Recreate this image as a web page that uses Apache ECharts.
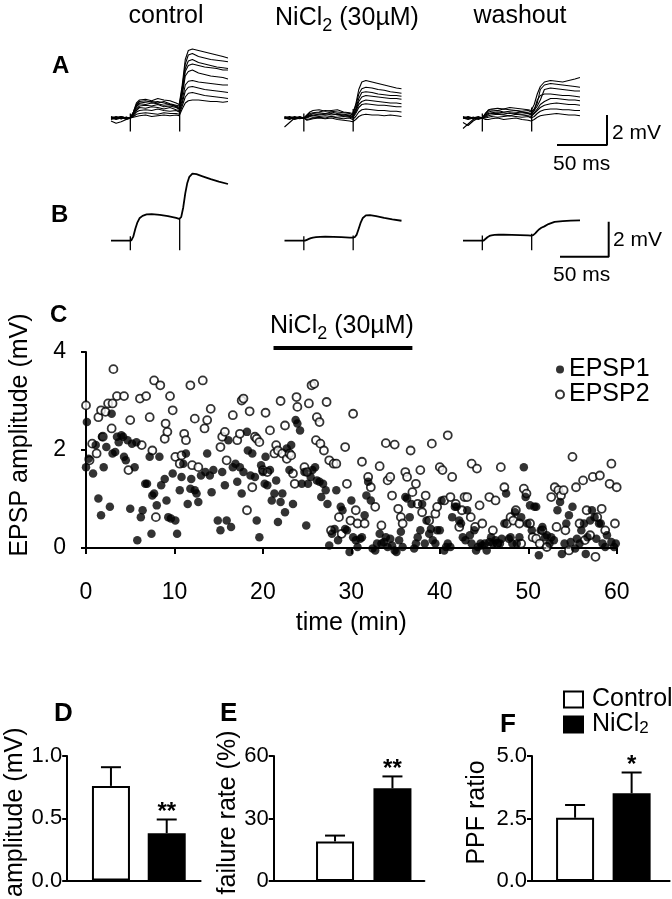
<!DOCTYPE html>
<html>
<head>
<meta charset="utf-8">
<script src="https://cdn.jsdelivr.net/npm/echarts@6/dist/echarts.min.js"></script>
<style>
  html, body { margin: 0; padding: 0; background: #fff; }
  #chart { width: 672px; height: 899px; }
</style>
</head>
<body>
<div id="chart"></div>
<script>
// ---- data ----
// single sweeps (A): mV at traceTimes (ms)
const traceTimes = [0, 5, 10, 15, 19, 22, 25, 28, 34, 40, 46, 52, 58, 64, 67, 70, 73, 76, 80, 86, 92, 98, 104, 110, 115]
const stimTimes = [19, 67.5]

const controlSweeps = [
  [0.05, -0.05, 0.1, 0, 0, 0.4, 1.0, 1.2, 1.25, 1.15, 1.3, 1.2, 1.15, 1.0, 0.9, 2.2, 3.9, 4.5, 4.6, 4.5, 4.4, 4.3, 4.2, 4.1, 4.0],
  [0, 0.1, -0.05, 0.05, 0, 0.3, 0.8, 1.0, 1.05, 1.1, 1.0, 1.1, 0.95, 0.85, 0.8, 2.0, 3.6, 4.2, 4.3, 4.1, 4.0, 3.9, 3.85, 3.8, 3.75],
  [-0.05, 0, 0.05, -0.1, 0, 0.3, 0.75, 0.95, 0.9, 1.0, 0.95, 0.85, 0.9, 0.8, 0.7, 1.8, 3.3, 3.8, 3.9, 3.7, 3.6, 3.5, 3.4, 3.35, 3.3],
  [0.1, 0, -0.05, 0.05, 0, 0.4, 0.9, 1.1, 1.15, 1.05, 1.1, 1.0, 0.9, 0.75, 0.6, 1.7, 3.1, 3.5, 3.6, 3.5, 3.4, 3.35, 3.3, 3.2, 3.2],
  [0, -0.1, 0, 0.05, 0, 0.3, 0.6, 0.8, 0.85, 0.8, 0.9, 0.75, 0.8, 0.7, 0.6, 1.5, 2.8, 3.1, 3.2, 3.0, 2.9, 2.8, 2.75, 2.7, 2.6],
  [0, 0.05, 0.1, 0, 0, 0.2, 0.5, 0.7, 0.65, 0.75, 0.7, 0.6, 0.7, 0.55, 0.5, 1.2, 2.2, 2.45, 2.5, 2.4, 2.35, 2.3, 2.25, 2.2, 2.2],
  [0.05, 0, -0.05, 0, 0, 0.2, 0.4, 0.5, 0.55, 0.5, 0.6, 0.5, 0.45, 0.5, 0.4, 1.0, 1.8, 2.05, 2.1, 2.0, 1.9, 1.85, 1.8, 1.75, 1.7],
  [-0.1, 0, 0.05, -0.05, 0, 0.1, 0.25, 0.3, 0.35, 0.3, 0.25, 0.35, 0.3, 0.3, 0.25, 0.8, 1.4, 1.65, 1.7, 1.6, 1.5, 1.45, 1.4, 1.35, 1.3],
  [-0.2, -0.35, -0.25, -0.1, 0, 0.05, 0.1, 0.15, 0.2, 0.1, 0.15, 0.2, 0.15, 0.2, 0.15, 0.6, 1.0, 1.15, 1.2, 1.2, 1.15, 1.1, 1.1, 1.05, 1.1]
]
const nickelSweeps = [
  [-0.6, -0.3, 0, 0.05, 0, 0.2, 0.4, 0.5, 0.55, 0.45, 0.5, 0.55, 0.4, 0.35, 0.3, 0.9, 1.9, 2.4, 2.5, 2.4, 2.3, 2.2, 2.1, 2.0, 1.95],
  [0.05, 0, 0.1, 0, 0, 0.15, 0.3, 0.35, 0.4, 0.5, 0.45, 0.4, 0.35, 0.3, 0.2, 0.8, 1.6, 1.95, 2.05, 2.0, 1.9, 1.85, 1.75, 1.7, 1.65],
  [0, 0.1, 0, -0.05, 0, 0.1, 0.2, 0.3, 0.35, 0.3, 0.4, 0.3, 0.25, 0.2, 0.1, 0.6, 1.3, 1.7, 1.75, 1.7, 1.6, 1.55, 1.5, 1.5, 1.45],
  [0.1, 0, -0.05, 0.05, 0, 0.05, 0.15, 0.2, 0.25, 0.3, 0.2, 0.25, 0.2, 0.15, 0.1, 0.5, 1.1, 1.4, 1.5, 1.45, 1.4, 1.35, 1.3, 1.3, 1.25],
  [0, -0.1, 0.05, 0, 0, 0.1, 0.2, 0.15, 0.2, 0.25, 0.3, 0.2, 0.15, 0.1, 0.05, 0.4, 0.9, 1.1, 1.2, 1.15, 1.1, 1.05, 1.0, 1.0, 0.95],
  [-0.05, 0, 0, 0.1, 0, 0, 0.1, 0.05, 0.1, 0.15, 0.1, 0.05, 0.1, 0.05, 0, 0.3, 0.7, 0.9, 0.95, 0.9, 0.85, 0.85, 0.8, 0.75, 0.75],
  [0.05, 0.05, -0.1, 0, 0, -0.1, -0.05, 0, 0.05, 0, 0.1, 0, -0.05, 0, -0.1, 0.1, 0.4, 0.55, 0.6, 0.55, 0.5, 0.5, 0.45, 0.45, 0.4],
  [0, -0.05, 0, 0.05, 0, -0.15, -0.1, -0.05, 0, -0.05, 0, -0.1, -0.15, -0.2, -0.25, -0.1, 0.1, 0.2, 0.25, 0.2, 0.2, 0.15, 0.2, 0.15, 0.1]
]
const washoutSweeps = [
  [-0.7, -0.4, -0.1, 0, 0, 0.3, 0.55, 0.6, 0.65, 0.6, 0.7, 0.65, 0.6, 0.55, 0.5, 0.9, 1.6, 2.1, 2.4, 2.5, 2.45, 2.4, 2.5, 2.6, 2.7],
  [0, 0.1, 0, -0.05, 0, 0.3, 0.5, 0.55, 0.5, 0.6, 0.55, 0.5, 0.45, 0.5, 0.4, 0.6, 1.0, 1.9, 2.2, 2.3, 2.25, 2.2, 2.15, 2.1, 2.05],
  [0.05, 0, 0.05, 0, 0, 0.2, 0.4, 0.45, 0.5, 0.4, 0.45, 0.5, 0.4, 0.35, 0.3, 0.5, 0.8, 1.2, 1.9, 2.0, 1.95, 1.9, 1.85, 1.8, 1.8],
  [0, -0.1, 0, 0.1, 0, 0.2, 0.3, 0.35, 0.4, 0.35, 0.3, 0.35, 0.4, 0.3, 0.25, 0.5, 1.2, 1.5, 1.6, 1.6, 1.55, 1.5, 1.5, 1.45, 1.4],
  [0.1, 0, -0.05, 0, 0, 0.1, 0.25, 0.3, 0.3, 0.25, 0.35, 0.3, 0.25, 0.3, 0.2, 0.35, 0.6, 0.9, 1.1, 1.3, 1.3, 1.25, 1.2, 1.2, 1.15],
  [0, 0.05, 0, -0.1, 0, 0.05, 0.15, 0.2, 0.25, 0.2, 0.15, 0.25, 0.2, 0.15, 0.1, 0.3, 0.5, 0.7, 0.85, 0.95, 1.0, 0.95, 0.9, 0.9, 0.85],
  [-0.3, -0.5, -0.2, 0, 0, 0, 0.05, 0.1, 0.05, 0.1, 0.15, 0.1, 0.05, 0.1, 0, 0.1, 0.3, 0.45, 0.55, 0.6, 0.6, 0.55, 0.55, 0.5, 0.5],
  [0, -0.05, 0.05, 0, 0, -0.1, -0.1, -0.05, 0, -0.1, -0.05, 0, -0.1, -0.15, -0.2, -0.1, 0.05, 0.15, 0.2, 0.25, 0.3, 0.25, 0.2, 0.2, 0.15]
]
// averaged traces (B)
const avgTimes = [0, 10, 18, 20, 22, 24, 26, 28, 31, 35, 40, 48, 56, 64, 67, 69, 71, 73, 75, 77, 80, 84, 90, 98, 106, 115]
const avgControl = [0, 0, 0, 0.02, 0.25, 0.7, 1.05, 1.28, 1.42, 1.5, 1.52, 1.47, 1.4, 1.3, 1.25, 1.35, 1.9, 2.7, 3.3, 3.65, 3.83, 3.8, 3.68, 3.52, 3.38, 3.24]
const avgNickel = [0, 0, 0, 0, 0.05, 0.1, 0.15, 0.18, 0.2, 0.22, 0.23, 0.22, 0.2, 0.18, 0.17, 0.2, 0.35, 0.7, 1.05, 1.3, 1.45, 1.46, 1.4, 1.3, 1.22, 1.14]
const avgWashout = [0, 0, 0, 0, 0.1, 0.2, 0.27, 0.31, 0.33, 0.34, 0.34, 0.33, 0.32, 0.3, 0.29, 0.32, 0.42, 0.55, 0.66, 0.74, 0.82, 0.95, 1.08, 1.12, 1.15, 1.16]
// stimulus artefacts [low, high] mV for stim 1 and 2
const artefactsA = [[[-0.9, 0.3], [-0.9, 1.0]], [[-0.9, 0.3], [-0.9, 0.6]], [[-0.9, 0.3], [-0.9, 0.7]]]
const artefactsB = [[[-0.55, 0.25], [-0.55, 1.3]], [[-0.55, 0.25], [-0.55, 0.3]], [[-0.55, 0.3], [-0.55, 0.4]]]
const scaleBar = { ms: 50, mV: 2 }

// C: time course [min, mV]
const epsp1 = [[0.0,1.65],[0.1,2.57],[0.3,1.82],[0.8,1.52],[1.1,2.10],[1.4,1.01],[1.7,0.67],[1.8,2.27],[2.0,1.65],[2.3,2.06],[2.7,0.84],[2.9,2.74],[3.0,1.93],[3.3,1.96],[3.5,2.27],[3.7,2.16],[4.0,2.30],[4.2,2.27],[4.3,1.86],[4.5,1.79],[4.7,2.20],[5.0,0.80],[5.2,2.13],[5.5,1.65],[5.7,2.16],[5.8,0.16],[6.2,0.63],[6.4,0.77],[6.7,1.31],[6.9,1.31],[7.2,1.86],[7.4,0.29],[7.5,1.07],[7.7,1.11],[8.0,0.87],[8.3,1.86],[8.5,1.28],[8.9,1.41],[9.1,0.97],[9.3,0.63],[9.6,0.60],[9.8,1.52],[10.1,0.56],[10.3,0.29],[10.6,1.18],[10.8,1.45],[11.0,1.72],[11.3,1.93],[11.5,0.90],[11.8,1.21],[11.9,1.41],[12.3,1.18],[12.5,1.11],[12.7,0.94],[13.0,1.48],[13.5,1.55],[13.7,1.93],[14.0,1.48],[14.2,1.14],[14.4,1.59],[14.9,0.56],[15.2,0.36],[15.4,1.55],[15.7,1.28],[15.9,0.56],[16.1,2.20],[16.4,0.43],[16.6,1.65],[16.9,1.72],[17.1,1.35],[17.4,1.65],[17.6,1.11],[17.8,1.55],[18.2,2.37],[18.3,1.99],[18.6,1.48],[18.8,1.93],[19.1,1.45],[19.3,0.56],[19.6,0.22],[19.8,1.69],[20.0,1.55],[20.2,1.31],[20.3,1.86],[20.5,1.28],[20.8,1.59],[21.0,0.97],[21.3,1.11],[21.5,1.38],[21.7,0.53],[22.0,0.94],[22.2,1.11],[22.5,0.73],[22.7,2.03],[23.0,1.59],[23.2,2.10],[23.4,0.90],[23.7,2.61],[23.9,2.54],[24.2,2.40],[24.4,1.31],[24.7,1.55],[24.9,0.46],[25.1,1.31],[25.4,1.45],[25.6,1.59],[25.9,1.65],[26.1,1.38],[26.4,1.35],[26.6,1.04],[26.8,1.31],[27.1,1.18],[27.3,0.90],[27.5,0.05],[27.8,0.29],[28.1,0.39],[28.3,1.18],[28.5,0.16],[28.8,0.84],[29.0,0.77],[29.3,0.39],[29.5,0.36],[29.8,-0.08],[30.0,0.97],[30.2,0.22],[30.5,0.16],[30.7,0.02],[31.0,0.19],[31.2,0.22],[31.5,0.67],[31.7,1.07],[31.9,1.35],[32.2,0.97],[32.4,-0.01],[32.7,-0.05],[32.9,0.09],[33.2,0.29],[33.4,0.09],[33.7,0.12],[33.9,0.22],[34.1,0.02],[34.4,0.19],[34.6,0.05],[34.9,-0.05],[35.1,-0.08],[35.4,0.16],[35.6,0.33],[35.8,0.02],[36.1,1.04],[36.3,1.01],[36.6,0.63],[36.8,0.90],[37.1,-0.01],[37.3,0.09],[37.5,0.22],[37.8,0.36],[38.0,0.90],[38.3,0.09],[38.5,0.56],[38.8,0.29],[39.0,0.39],[39.2,0.16],[39.5,0.09],[39.7,0.36],[40.0,0.36],[40.2,0.97],[40.5,-0.05],[40.7,0.02],[40.9,0.09],[41.2,0.02],[41.4,0.63],[41.7,0.84],[41.9,0.84],[42.2,0.56],[42.4,0.50],[42.6,0.22],[42.9,0.16],[43.1,0.77],[43.4,0.26],[43.6,0.09],[43.9,0.36],[44.1,-0.05],[44.3,0.02],[44.6,0.09],[44.8,0.05],[45.1,0.09],[45.3,-0.05],[45.6,0.12],[45.8,0.22],[46.0,0.09],[46.3,0.16],[46.5,0.09],[46.8,0.09],[47.0,0.19],[47.3,0.50],[47.5,1.11],[47.8,0.19],[48.0,0.22],[48.2,0.09],[48.5,0.73],[48.7,0.09],[49.0,0.22],[49.2,0.63],[49.5,1.65],[49.7,1.04],[49.9,0.50],[50.2,0.87],[50.4,0.36],[50.7,0.84],[50.9,0.84],[51.2,-0.15],[51.4,0.36],[51.6,0.43],[51.9,0.22],[52.1,0.26],[52.4,0.09],[52.6,0.22],[52.9,0.16],[53.3,0.77],[53.6,0.94],[53.8,-0.12],[54.1,0.09],[54.3,0.50],[54.6,0.67],[54.8,0.12],[55.0,0.84],[55.3,-0.01],[55.5,0.19],[55.8,0.09],[56.0,0.36],[56.3,0.50],[56.5,-0.12],[56.7,0.22],[57.0,0.56],[57.2,0.77],[57.5,0.63],[57.7,0.19],[58.0,0.50],[58.2,0.50],[58.4,0.09],[58.7,0.02],[58.9,0.26],[59.4,0.12],[59.7,0.02],[59.9,0.09]]
const epsp2 = [[0.0,2.91],[0.4,1.79],[0.7,2.13],[1.2,1.93],[1.4,2.67],[1.7,2.81],[1.9,2.27],[2.2,2.78],[2.5,2.95],[2.9,2.44],[3.0,2.95],[3.1,3.65],[3.5,3.10],[4.3,3.10],[4.8,1.59],[5.0,2.61],[6.1,3.05],[6.3,2.10],[6.8,3.10],[7.2,2.67],[7.5,1.99],[7.7,3.42],[7.9,0.63],[8.4,3.32],[8.9,2.23],[9.0,2.54],[9.2,2.37],[9.5,3.10],[9.8,2.81],[10.1,1.86],[10.6,1.72],[10.8,1.89],[11.1,2.33],[11.3,2.20],[11.8,3.32],[12.0,1.69],[12.3,2.64],[12.7,1.65],[13.2,3.42],[13.4,2.44],[13.7,2.61],[14.1,2.84],[15.2,2.06],[15.4,2.27],[15.7,2.37],[15.9,1.79],[16.6,2.71],[17.1,2.20],[17.4,2.33],[17.6,3.01],[17.8,3.05],[18.2,0.77],[18.5,2.79],[18.8,1.24],[19.1,2.27],[19.3,2.23],[19.6,2.16],[20.0,1.59],[20.3,2.76],[20.5,1.55],[20.8,2.40],[21.3,1.93],[21.5,2.10],[21.7,1.99],[22.0,3.00],[22.2,1.93],[22.5,2.50],[22.7,1.82],[23.0,1.93],[23.2,1.89],[23.4,1.52],[23.6,1.31],[23.8,3.08],[23.9,2.88],[24.7,1.65],[25.0,1.55],[25.2,2.95],[25.5,3.32],[25.8,3.35],[26.1,2.67],[26.4,2.57],[26.0,2.20],[26.5,2.13],[26.9,1.99],[27.2,2.98],[27.5,1.79],[27.7,0.36],[28.0,1.72],[28.3,1.72],[28.6,0.63],[28.9,0.29],[29.3,2.06],[29.5,1.31],[29.9,0.56],[30.2,2.74],[30.5,0.77],[30.7,0.50],[31.2,1.76],[31.5,0.50],[31.9,1.45],[32.2,1.24],[32.7,0.84],[33.2,1.67],[33.4,0.46],[33.9,2.14],[34.1,1.38],[34.4,1.45],[34.6,1.07],[34.9,2.11],[35.3,0.80],[35.6,0.63],[35.8,0.50],[36.1,1.55],[36.3,1.45],[36.7,1.99],[36.9,1.14],[37.3,1.31],[37.5,0.90],[37.8,1.59],[38.0,0.73],[38.4,1.07],[38.8,0.56],[39.1,2.13],[39.5,0.70],[39.7,0.84],[40.0,1.65],[40.3,1.59],[40.5,0.97],[40.9,2.30],[41.2,1.04],[41.4,1.45],[41.8,0.90],[42.2,0.43],[42.5,0.77],[42.8,1.04],[43.1,1.04],[43.5,0.63],[43.6,1.72],[44.0,0.43],[44.2,1.62],[44.5,0.87],[44.8,0.50],[45.6,1.04],[46.0,0.36],[46.3,0.97],[46.5,0.09],[46.9,1.65],[47.3,1.24],[47.6,0.50],[48.0,0.63],[48.3,0.56],[48.6,0.77],[49.0,0.50],[49.2,0.09],[49.5,1.21],[49.8,1.11],[50.2,0.50],[50.5,0.22],[50.9,0.19],[51.3,0.09],[51.6,0.36],[52.1,0.02],[52.6,1.04],[53.0,1.24],[53.2,0.43],[53.4,1.18],[53.7,1.07],[54.0,1.18],[54.2,0.36],[54.6,-0.05],[55.0,1.86],[55.4,1.24],[55.8,0.50],[56.2,1.38],[56.4,0.16],[56.6,0.77],[57.0,0.26],[57.3,1.45],[57.6,-0.18],[57.8,0.63],[58.1,1.48],[58.3,0.80],[58.7,0.36],[59.2,1.31],[59.4,1.72],[59.8,0.50],[60.0,1.24]]
const drugPeriod = [21.2, 36.9]   // min, NiCl2 application
const drugBarLevel = 4.08          // mV, where the bar sits

// D-F: summary
const groups = ['Control', 'NiCl2']
const ampMean = [0.76, 0.38]
const ampSem = [0.15, 0.11]
const ampSig = ['', '**']
const failMean = [19.0, 44.5]
const failSem = [2.8, 5.7]
const failSig = ['', '**']
const ppfMean = [2.53, 3.51]
const ppfSem = [0.51, 0.83]
const ppfSig = ['', '*']

// ---- layout ----
const FONT = "'Liberation Sans', Arial, Helvetica, sans-serif"
const sweepLefts = [111, 284.5, 463]
const grids = []
const xAxes = []
const yAxes = []
const series = []

function hiddenGrid(left, top, width, height, xmax, ymin, ymax) {
  grids.push({ left, top, width, height })
  const i = grids.length - 1
  xAxes.push({ gridIndex: i, type: 'value', min: 0, max: xmax, show: false })
  yAxes.push({ gridIndex: i, type: 'value', min: ymin, max: ymax, show: false })
  return i
}
function line(gi, data, width) {
  series.push({
    type: 'line', xAxisIndex: gi, yAxisIndex: gi, data,
    symbol: 'none', clip: false, silent: true,
    lineStyle: { color: '#000', width }
  })
}

// A rows: sweeps
const sweepSets = [controlSweeps, nickelSweeps, washoutSweeps]
sweepSets.forEach((set, k) => {
  const gi = hiddenGrid(sweepLefts[k], 28, 117, 120, 115, -2, 6)
  set.forEach(tr => line(gi, traceTimes.map((t, j) => [t, tr[j]]), 1.1))
  stimTimes.forEach((s, j) => line(gi, [[s, artefactsA[k][j][0]], [s, artefactsA[k][j][1]]], 1.3))
})
const scaleA = hiddenGrid(557, 55, 117, 120, 115, -2, 6)
line(scaleA, [[0, 0], [scaleBar.ms, 0], [scaleBar.ms, scaleBar.mV]], 2)

// B rows: averages
const avgSets = [avgControl, avgNickel, avgWashout]
avgSets.forEach((tr, k) => {
  const gi = hiddenGrid(sweepLefts[k], 135.7, 117, 140, 115, -2, 6)
  line(gi, avgTimes.map((t, j) => [t, tr[j]]), 1.8)
  stimTimes.forEach((s, j) => line(gi, [[s, artefactsB[k][j][0]], [s, artefactsB[k][j][1]]], 1.3))
})
const scaleB = hiddenGrid(560, 151.7, 117, 140, 115, -2, 6)
line(scaleB, [[0, 0], [scaleBar.ms, 0], [scaleBar.ms, scaleBar.mV]], 2)

// C: scatter
grids.push({ left: 85.7, top: 352, width: 531, height: 196 })
const gC = grids.length - 1
const tickText = { color: '#000', fontFamily: FONT, fontSize: 23 }
const barTickText = { color: '#000', fontFamily: FONT, fontSize: 22 }
const nameText = { color: '#000', fontFamily: FONT, fontSize: 25 }
xAxes.push({
  gridIndex: gC, type: 'value', min: 0, max: 60, interval: 10, offset: 25,
  axisLine: { show: true, lineStyle: { color: '#000', width: 2 } },
  axisTick: { show: true, length: 6, lineStyle: { color: '#000', width: 2 } },
  axisLabel: Object.assign({ margin: 8, showMinLabel: true, showMaxLabel: true }, tickText),
  splitLine: { show: false },
  name: 'time (min)', nameLocation: 'middle', nameGap: 38, nameTextStyle: nameText
})
yAxes.push({
  gridIndex: gC, type: 'value', min: 0, max: 4, interval: 2, offset: 11,
  axisLine: { show: true, lineStyle: { color: '#000', width: 2 } },
  axisTick: { show: true, length: 5, lineStyle: { color: '#000', width: 2 } },
  axisLabel: Object.assign({ margin: 9 }, tickText),
  splitLine: { show: false },
  name: 'EPSP amplitude (mV)', nameLocation: 'middle', nameRotate: 90, nameGap: 42,
  nameTextStyle: Object.assign({ padding: [0, 0, 0, 30] }, nameText)
})
series.push({
  type: 'line', xAxisIndex: gC, yAxisIndex: gC, data: [[-1.25, 0], [60, 0]],
  symbol: 'none', clip: false, silent: true,
  lineStyle: { color: '#000', width: 1, type: [3, 3] }
})
series.push({
  type: 'line', xAxisIndex: gC, yAxisIndex: gC,
  data: drugPeriod.map(t => [t, drugBarLevel]),
  symbol: 'none', clip: false, silent: true, lineStyle: { color: '#000', width: 4 }
})
series.push({
  name: 'EPSP2', type: 'scatter', xAxisIndex: gC, yAxisIndex: gC, data: epsp2,
  symbol: 'circle', symbolSize: 8, clip: false,
  itemStyle: { color: '#fff', borderColor: '#000', borderWidth: 1.8 }
})
series.push({
  name: 'EPSP1', type: 'scatter', xAxisIndex: gC, yAxisIndex: gC, data: epsp1,
  symbol: 'circle', symbolSize: 8.5, clip: false,
  itemStyle: { color: '#000' }
})

// D-F: bar panels
const panels = [
  { left: 67.2, width: 133.4, pos: [0.328, 0.746], max: 1.0, interval: 0.5, dec: 1,
    name: 'amplitude (mV)', gap: 38, mean: ampMean, sem: ampSem, sig: ampSig },
  { left: 273.7, width: 150.7, pos: [0.407, 0.788], max: 60, interval: 30, dec: 0,
    name: 'failure rate (%)', gap: 12, mean: failMean, sem: failSem, sig: failSig },
  { left: 532, width: 137.6, pos: [0.313, 0.724], max: 5.0, interval: 2.5, dec: 1,
    name: 'PPF ratio', gap: 42, mean: ppfMean, sem: ppfSem, sig: ppfSig }
]
panels.forEach(p => {
  grids.push({ left: p.left, top: 756, width: p.width, height: 125 })
  const gi = grids.length - 1
  xAxes.push({
    gridIndex: gi, type: 'value', min: 0, max: 1,
    axisLine: { show: true, lineStyle: { color: '#000', width: 2 } },
    axisTick: { show: false }, axisLabel: { show: false }, splitLine: { show: false }
  })
  yAxes.push({
    gridIndex: gi, type: 'value', min: 0, max: p.max, interval: p.interval,
    axisLine: { show: true, lineStyle: { color: '#000', width: 2 } },
    axisTick: { show: true, length: 5, lineStyle: { color: '#000', width: 2 } },
    axisLabel: Object.assign({ margin: 5, formatter: v => v.toFixed(p.dec) }, barTickText),
    splitLine: { show: false },
    name: p.name, nameLocation: 'middle', nameRotate: 90, nameGap: p.gap,
    nameTextStyle: Object.assign({ padding: [0, 0, 0, 12] }, nameText)
  })
  groups.forEach((g, k) => {
    series.push({
      name: g, type: 'bar', xAxisIndex: gi, yAxisIndex: gi,
      data: [[p.pos[k], p.mean[k]]], barWidth: 38, barGap: '-100%',
      itemStyle: k === 0
        ? { color: '#fff', borderColor: '#000', borderWidth: 2 }
        : { color: '#000', borderColor: '#000', borderWidth: 2 }
    })
  })
  series.push({
    type: 'custom', xAxisIndex: gi, yAxisIndex: gi, silent: true, z: 5,
    data: groups.map((g, k) => [p.pos[k], p.mean[k], p.mean[k] + p.sem[k]]),
    renderItem: (params, api) => {
      const a = api.coord([api.value(0), api.value(1)])
      const b = api.coord([api.value(0), api.value(2)])
      const kids = [
        { type: 'line', shape: { x1: a[0], y1: a[1], x2: b[0], y2: b[1] }, style: { stroke: '#000', lineWidth: 2 } },
        { type: 'line', shape: { x1: b[0] - 10, y1: b[1], x2: b[0] + 10, y2: b[1] }, style: { stroke: '#000', lineWidth: 2 } }
      ]
      const s = p.sig[params.dataIndex]
      if (s) kids.push({
        type: 'text', x: b[0], y: b[1] - 7,
        style: { text: s, font: 'bold 24px ' + FONT, fill: '#000', textAlign: 'center', textVerticalAlign: 'middle' }
      })
      return { type: 'group', children: kids }
    }
  })
})

// ---- text ----
const sub = { s: { fontSize: 18, fontFamily: FONT, lineHeight: 14, verticalAlign: 'bottom' } }
function txt(text, x, y, size, opts) {
  return {
    type: 'text', x, y, silent: true,
    style: Object.assign({
      text, font: size + 'px ' + FONT, fill: '#000',
      textAlign: 'left', textVerticalAlign: 'middle'
    }, opts || {})
  }
}
const graphic = [
  txt('control', 166, 16, 25, { textAlign: 'center' }),
  txt('NiCl{s|2} (30µM)', 347, 18, 25, { textAlign: 'center', lineHeight: 34, rich: sub }),
  txt('washout', 520, 16, 25, { textAlign: 'center' }),
  txt('A', 52, 66, 24, { font: 'bold 24px ' + FONT }),
  txt('B', 51, 215, 24, { font: 'bold 24px ' + FONT }),
  txt('C', 50, 315, 24, { font: 'bold 24px ' + FONT }),
  txt('D', 54, 714, 26, { font: 'bold 26px ' + FONT }),
  txt('E', 220, 714, 26, { font: 'bold 26px ' + FONT }),
  txt('F', 500, 725, 26, { font: 'bold 26px ' + FONT }),
  txt('2 mV', 612, 133, 21),
  txt('50 ms', 553, 164, 21),
  txt('2 mV', 613, 240, 21),
  txt('50 ms', 553, 275, 21),
  txt('NiCl{s|2} (30µM)', 270, 326, 25, { lineHeight: 34, rich: sub })
]

const chart = echarts.init(document.getElementById('chart'), null, { renderer: 'canvas' })
chart.setOption({
  animation: false,
  backgroundColor: '#fff',
  grid: grids,
  xAxis: xAxes,
  yAxis: yAxes,
  legend: [
    {
      data: ['EPSP1', 'EPSP2'], orient: 'vertical', left: 550, top: 352,
      icon: 'circle', itemWidth: 8, itemHeight: 8, itemGap: 0, selectedMode: false,
      textStyle: { color: '#000', fontFamily: FONT, fontSize: 25, lineHeight: 25 }
    },
    {
      data: groups, orient: 'vertical', left: 558, top: 682,
      icon: 'rect', itemWidth: 19, itemHeight: 16, itemGap: 0, selectedMode: false,
      formatter: n => (n === 'NiCl2' ? 'NiCl{s|2}' : n),
      textStyle: {
        color: '#000', fontFamily: FONT, fontSize: 25, lineHeight: 25, padding: [0, 0, 0, 4],
        rich: { s: { fontSize: 17, fontFamily: FONT, lineHeight: 10, verticalAlign: 'bottom' } }
      }
    }
  ],
  graphic,
  series
})
window.addEventListener('resize', () => chart.resize())
</script>
</body>
</html>
